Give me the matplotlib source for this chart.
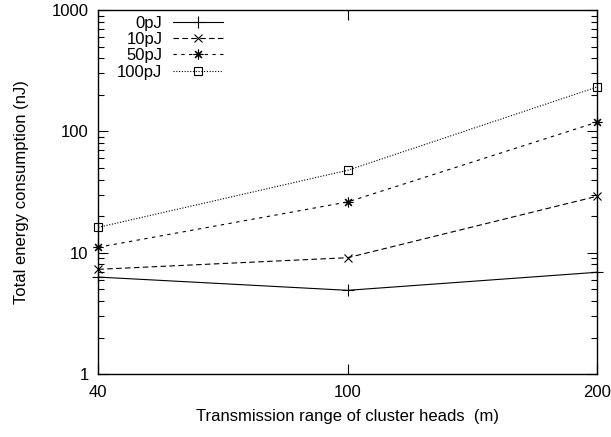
import matplotlib
matplotlib.use("Agg")
import matplotlib.pyplot as plt
from matplotlib.ticker import LogLocator, NullFormatter, FixedLocator, FuncFormatter

plt.rcParams['font.family'] = ['Liberation Sans', 'DejaVu Sans']

ranges = ["40", "100", "200"]
series_names = ["0pJ", "10pJ", "50pJ", "100pJ"]
e_0pJ = [6.3, 4.9, 6.9]
e_10pJ = [7.3, 9.1, 29.2]
e_50pJ = [11.1, 26.2, 119]
e_100pJ = [16.2, 47.8, 232]

FS = 12

fig = plt.figure(figsize=(6.11, 4.37), dpi=100)
ax = fig.add_axes([0.161, 0.144, 0.816, 0.833])

xs = list(range(len(ranges)))
styles = [
    dict(ls='-', marker='+', ms=9, mew=0.8),
    dict(ls=(0, (5, 3)), marker='x', ms=6, mew=0.8),
    dict(ls=(0, (3, 4)), marker=(8, 2, 0), ms=7, mew=0.8),
    dict(ls=(0, (1, 1.5)), marker='s', ms=6, mew=0.8, mfc='none'),
]
for name, vals, st in zip(series_names, [e_0pJ, e_10pJ, e_50pJ, e_100pJ], styles):
    ax.plot(xs, vals, color='black', lw=0.8, label=name, clip_on=False, **st)

ax.set_yscale('log')
ax.set_ylim(1, 1000)
ax.set_xlim(0, len(ranges) - 1)
ax.xaxis.set_major_locator(FixedLocator(xs))
ax.set_xticklabels(ranges)
ax.yaxis.set_major_locator(LogLocator(base=10, numticks=10))
ax.yaxis.set_minor_locator(LogLocator(base=10, subs=range(2, 10), numticks=20))
ax.yaxis.set_minor_formatter(NullFormatter())
ax.yaxis.set_major_formatter(FuncFormatter(lambda v, p: f"{v:g}"))

ax.tick_params(axis='both', which='major', direction='in', length=7, width=0.8,
               labelsize=FS, top=True, right=True)
ax.tick_params(axis='y', which='minor', direction='in', length=4, width=0.8, right=True)
ax.tick_params(axis='y', which='major', pad=7)
ax.tick_params(axis='x', which='major', pad=8)
for s in ax.spines.values():
    s.set_linewidth(1.0)

ax.set_xlabel("Transmission range of cluster heads  (m)", fontsize=FS, labelpad=6)
ax.set_ylabel("Total energy consumption (nJ)", fontsize=FS, labelpad=16)

ax.legend(loc='upper left', markerfirst=False, frameon=False, fontsize=FS,
          handlelength=3.0, handletextpad=0.65, labelspacing=0.07,
          borderaxespad=0, borderpad=0,
          bbox_to_anchor=(117 / 611, 1 - 16 / 437), bbox_transform=fig.transFigure,
          numpoints=1)

fig.savefig("out.png", dpi=100)
